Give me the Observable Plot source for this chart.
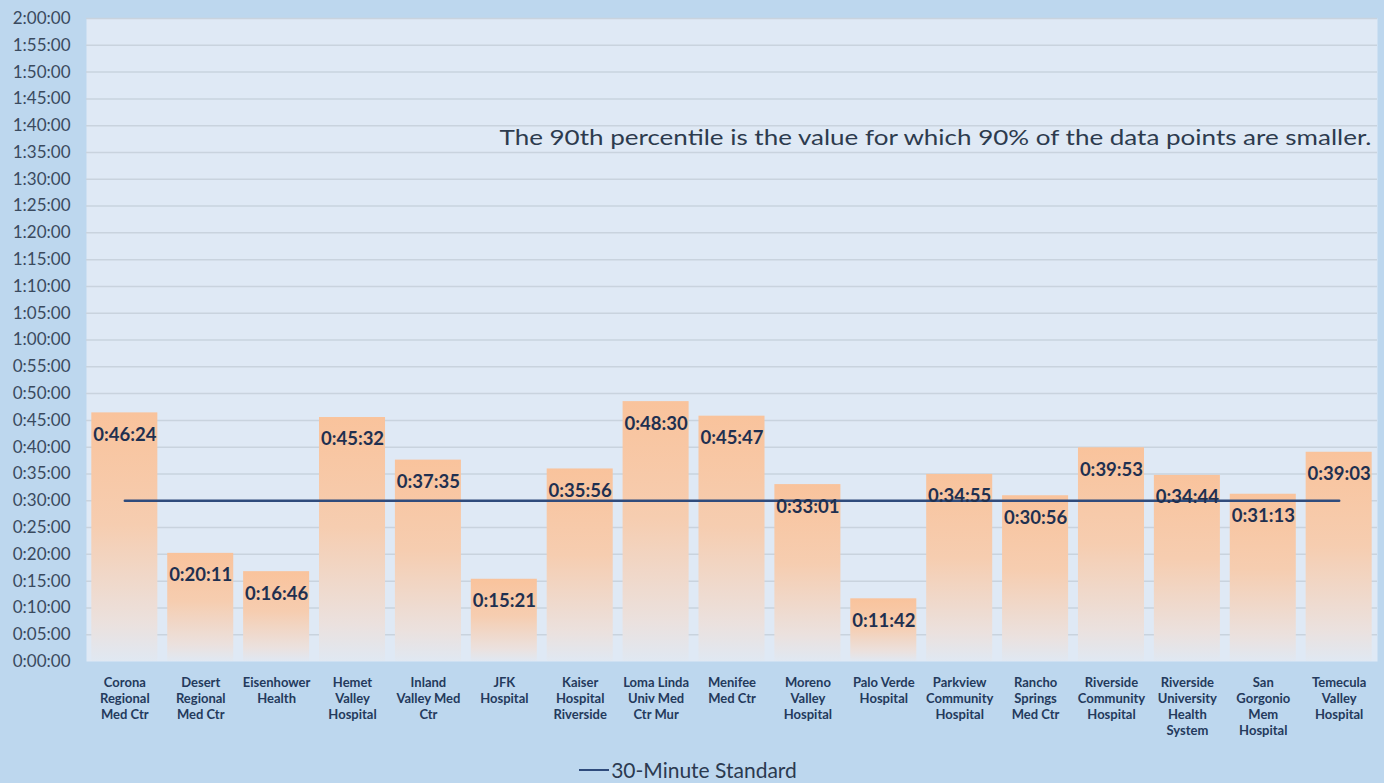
<!DOCTYPE html>
<html>
<head>
<meta charset="utf-8">
<script src="https://cdn.jsdelivr.net/npm/d3@7"></script>
<script src="https://cdn.jsdelivr.net/npm/@observablehq/plot@0.6"></script>
<style>
  html, body { margin: 0; padding: 0; background: #bdd7ee; }
  body { width: 1384px; height: 783px; overflow: hidden; font-family: Lato, "Open Sans", sans-serif; }
  #legend { height: 31px; display: flex; align-items: center; justify-content: center; color: #2b3a50; font-size: 21px; padding-top: 2px; }
  #legend .sw { display: inline-block; width: 30px; height: 2px; background: #2f4b7c; margin-right: 2px; margin-left: -8px; }
</style>
</head>
<body>
<div id="chart"></div>
<div id="legend"><span class="sw"></span><span>30-Minute Standard</span></div>
<script>
// Categories (hospitals)
const hospitals = [
  "Corona Regional Med Ctr", "Desert Regional Med Ctr", "Eisenhower Health",
  "Hemet Valley Hospital", "Inland Valley Med Ctr", "JFK Hospital",
  "Kaiser Hospital Riverside", "Loma Linda Univ Med Ctr Mur", "Menifee Med Ctr",
  "Moreno Valley Hospital", "Palo Verde Hospital", "Parkview Community Hospital",
  "Rancho Springs Med Ctr", "Riverside Community Hospital",
  "Riverside University Health System", "San Gorgonio Mem Hospital", "Temecula Valley Hospital"
];
// Tick labels (wrapped as in the reference)
const tickLabels = [
  "Corona\nRegional\nMed Ctr", "Desert\nRegional\nMed Ctr", "Eisenhower\nHealth",
  "Hemet\nValley\nHospital", "Inland\nValley Med\nCtr", "JFK\nHospital",
  "Kaiser\nHospital\nRiverside", "Loma Linda\nUniv Med\nCtr Mur", "Menifee\nMed Ctr",
  "Moreno\nValley\nHospital", "Palo Verde\nHospital", "Parkview\nCommunity\nHospital",
  "Rancho\nSprings\nMed Ctr", "Riverside\nCommunity\nHospital",
  "Riverside\nUniversity\nHealth\nSystem", "San\nGorgonio\nMem\nHospital", "Temecula\nValley\nHospital"
];
// 90th percentile values (H:MM:SS)
const p90 = [
  "0:46:24", "0:20:11", "0:16:46", "0:45:32", "0:37:35", "0:15:21",
  "0:35:56", "0:48:30", "0:45:47", "0:33:01", "0:11:42", "0:34:55",
  "0:30:56", "0:39:53", "0:34:44", "0:31:13", "0:39:03"
];
const standardSeconds = 1800; // 30-minute standard
const yTicks = d3.range(0, 7201, 300);
const note = "The 90th percentile is the value for which 90% of the data points are smaller.";

const toSec = s => { const [h, m, x] = s.split(":").map(Number); return h * 3600 + m * 60 + x; };
const fmt = sec => { const h = Math.floor(sec / 3600), m = Math.floor((sec % 3600) / 60), s = sec % 60; return `${h}:${String(m).padStart(2, "0")}:${String(s).padStart(2, "0")}`; };

const data = hospitals.map((h, i) => ({ hospital: h, label: p90[i], seconds: toSec(p90[i]) }));
const labelOf = new Map(hospitals.map((h, i) => [h, tickLabels[i]]));

const chart = Plot.plot({
  width: 1384,
  height: 752,
  marginLeft: 86,
  marginRight: 7,
  marginTop: 18,
  marginBottom: 91,
  style: { background: "transparent", fontFamily: "Lato, 'Open Sans', sans-serif" },
  x: { domain: hospitals, paddingInner: 0.13, paddingOuter: 0.07, round: false },
  y: { domain: [0, 7200] },
  marks: [
    Plot.frame({ fill: "#dfe9f5", stroke: "none" }),
    Plot.gridY(yTicks.slice(1), { stroke: "#c9d3de", strokeOpacity: 1, strokeWidth: 1.5 }),
    Plot.barY(data, { x: "hospital", y: "seconds", fill: "url(#barGrad)" }),
    Plot.line(data, { x: "hospital", y: () => standardSeconds, stroke: "#2f4b7c", strokeWidth: 2.5 }),
    Plot.text(data, { x: "hospital", y: "seconds", text: "label", dy: 22, fill: "#1f3050", fontSize: 18.5, fontWeight: "bold" }),
    Plot.text([note], { frameAnchor: "top-right", dx: -6, dy: 112, fill: "#2d3b4e", fontSize: 21, textAnchor: "end", className: "note" }),
    Plot.axisY({ ticks: yTicks, tickFormat: fmt, tickSize: 0, tickPadding: 16, fontSize: 17, color: "#3a4a5e", label: null }),
    Plot.axisX({ tickSize: 0, tickPadding: 14, tickFormat: d => labelOf.get(d), fontSize: 13, fontWeight: "bold", lineHeight: 1.23, color: "#243a5c", label: null })
  ]
});

// gradient for the bars (peach fading toward the panel colour)
const defs = d3.select(chart).insert("defs", ":first-child");
const g = defs.append("linearGradient").attr("id", "barGrad").attr("x1", 0).attr("y1", 0).attr("x2", 0).attr("y2", 1);
g.append("stop").attr("offset", "0%").attr("stop-color", "#f9c39c");
g.append("stop").attr("offset", "45%").attr("stop-color", "#f6cdb0");
g.append("stop").attr("offset", "85%").attr("stop-color", "#ebe1de");
g.append("stop").attr("offset", "100%").attr("stop-color", "#e0e8f2");

// widen the note to the reference's span
d3.select(chart).selectAll("g.note text").attr("textLength", 872).attr("lengthAdjust", "spacingAndGlyphs");

document.getElementById("chart").append(chart);
</script>
</body>
</html>
